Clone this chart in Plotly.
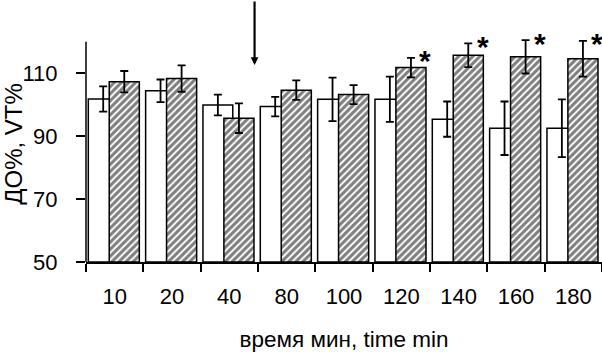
import plotly.graph_objects as go

categories = ["10", "20", "40", "80", "100", "120", "140", "160", "180"]
do_values = [101.8, 104.4, 99.9, 99.4, 101.7, 101.7, 95.4, 92.5, 92.5]
do_errors = [4.0, 3.6, 3.3, 3.1, 6.9, 7.2, 5.6, 8.5, 9.2]
vt_values = [107.3, 108.3, 95.7, 104.6, 103.2, 111.8, 115.7, 115.2, 114.6]
vt_errors = [3.4, 4.2, 4.7, 3.1, 3.0, 3.1, 3.8, 5.3, 5.7]
significant = ["120", "140", "160", "180"]
y_ticks = [50, 70, 90, 110]
y_axis_top = 120

FONT = "Arial, Liberation Sans, sans-serif"

fig = go.Figure()
fig.add_trace(go.Bar(
    x=categories, y=[v - 50 for v in do_values], base=50,
    offset=-0.46, width=0.52,
    marker=dict(color="white", line=dict(color="black", width=1.5)),
    error_y=dict(type="data", array=do_errors, color="black", thickness=1.8, width=4),
    showlegend=False,
))
fig.add_trace(go.Bar(
    x=categories, y=[v - 50 for v in vt_values], base=50,
    offset=-0.095, width=0.525,
    marker=dict(color="white", line=dict(color="black", width=1.5),
                pattern=dict(shape="/", fgcolor="black", bgcolor="white", size=5, solidity=0.62)),
    error_y=dict(type="data", array=vt_errors, color="black", thickness=1.8, width=4),
    showlegend=False,
))

annotations = []
for c in significant:
    i = categories.index(c)
    annotations.append(dict(
        x=i, y=vt_values[i] + vt_errors[i], xref="x", yref="y",
        text="<b>*</b>", showarrow=False, xshift=24, yshift=-3,
        font=dict(family=FONT, size=30, color="black"),
        xanchor="center", yanchor="middle",
    ))

# arrow marking the intervention time (between 40 and 80 min)
annotations.append(dict(
    x=2.44, y=112.6, xref="x", yref="y",
    ax=0, ay=-66, text="", showarrow=True,
    arrowhead=2, arrowsize=0.7, arrowwidth=2.2, arrowcolor="black",
))

# y axis line only up to the top value (range extends a little for the stars)
shapes = [dict(type="line", xref="paper", x0=0, x1=0, yref="y", y0=50, y1=y_axis_top,
               line=dict(color="black", width=1.5))]

fig.update_layout(
    width=602, height=352,
    margin=dict(l=86, r=0, t=26, b=90),
    paper_bgcolor="white", plot_bgcolor="white",
    barmode="overlay",
    font=dict(family=FONT, color="black", size=22),
    annotations=annotations,
    shapes=shapes,
    xaxis=dict(
        type="category", range=[-0.5, 8.5], automargin=False,
        showline=True, linecolor="black", linewidth=1.5,
        ticks="outside", tickson="boundaries", ticklen=8, tickwidth=1.5, tickcolor="black",
        tickfont=dict(size=22), ticklabelstandoff=14,
        title=dict(text="время мин, time min", font=dict(size=22.5), standoff=24),
        showgrid=False, zeroline=False, fixedrange=True,
    ),
    yaxis=dict(
        range=[50, 125], tickvals=y_ticks, automargin=False,
        showline=False,
        ticks="outside", ticklen=9, tickwidth=1.5, tickcolor="black",
        tickfont=dict(size=22), ticklabelstandoff=14,
        title=dict(text="ДО%, VT%", font=dict(size=24), standoff=3),
        showgrid=False, zeroline=False, fixedrange=True,
    ),
)

fig.write_html(
    "out.html",
    config={"displayModeBar": False},
    post_script="document.body.style.margin='0';document.body.style.overflow='hidden';",
)
